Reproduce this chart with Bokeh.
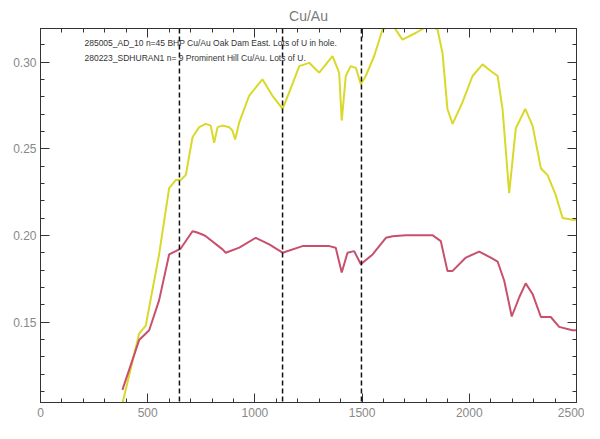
from bokeh.plotting import figure
from bokeh.models import Range1d, LinearAxis, Span, Label, FixedTicker, CustomJSTickFormatter
from bokeh.embed import file_html
from bokeh.resources import INLINE

# ---- data ----
yel_x = [382, 460, 491, 553, 600, 631, 654, 678, 709, 740, 771, 794, 810, 826, 849, 880, 895,
         908, 927, 973, 1035, 1082, 1129, 1160, 1207, 1253, 1300, 1362, 1393, 1405, 1424,
         1447, 1471, 1494, 1517, 1556, 1595, 1642, 1688, 1750, 1813, 1852, 1875, 1898,
         1922, 1968, 2015, 2062, 2100, 2132, 2155, 2186, 2217, 2261, 2295, 2334, 2365,
         2403, 2435, 2481, 2500]
yel_y = [0.1031, 0.1434, 0.148, 0.189, 0.2273, 0.232, 0.232, 0.235, 0.2567, 0.2625, 0.2644,
         0.2634, 0.2535, 0.2625, 0.2634, 0.2625, 0.2606, 0.2554, 0.2653, 0.2806, 0.2901,
         0.2806, 0.273, 0.2825, 0.2977, 0.2996, 0.2939, 0.3034, 0.2939, 0.2663, 0.292,
         0.2977, 0.2967, 0.2872, 0.292, 0.3034, 0.3187, 0.3215, 0.313, 0.3168, 0.3215,
         0.3187, 0.3053, 0.273, 0.2644, 0.2768, 0.292, 0.2987, 0.2949, 0.292, 0.273,
         0.2244, 0.2619, 0.273, 0.2634, 0.2387, 0.2349, 0.2234, 0.2101, 0.2091, 0.2091]

red_x = [382, 460, 507, 553, 600, 631, 654, 709, 724, 755, 771, 849, 864, 927, 1004, 1067,
         1129, 1222, 1347, 1377, 1405, 1432, 1463, 1494, 1549, 1611, 1642, 1704, 1828,
         1867, 1898, 1922, 1984, 2046, 2100, 2132, 2163, 2198, 2233, 2263, 2295, 2334,
         2380, 2419, 2481, 2500]
red_y = [0.111, 0.1397, 0.1454, 0.1626, 0.1891, 0.191, 0.1925, 0.2025, 0.202, 0.2006,
         0.1996, 0.192, 0.1901, 0.193, 0.1987, 0.1949, 0.1901, 0.1939, 0.1939, 0.193,
         0.1787, 0.1901, 0.191, 0.1834, 0.1891, 0.1987, 0.1996, 0.2002, 0.2002, 0.1968,
         0.1796, 0.1796, 0.1873, 0.1907, 0.1873, 0.185, 0.1739, 0.1533, 0.1644, 0.1724,
         0.1663, 0.153, 0.153, 0.1473, 0.1454, 0.1454]

vlines = [648, 1129, 1497]
x_ticks = [0, 500, 1000, 1500, 2000, 2500]
y_ticks = [0.15, 0.20, 0.25, 0.30]
x_minor = list(range(0, 2501, 100))
y_minor = [round(0.10 + 0.01 * i, 2) for i in range(23)]
title_text = "Cu/Au"
note_lines = ["285005_AD_10  n=45 BHP Cu/Au Oak Dam East. Lots of U in hole.",
              "280223_SDHURAN1  n= 9 Prominent Hill Cu/Au. Lots of U."]
note_x = [205, 205]
note_y = [0.3109, 0.3023]

# ---- figure ----
p = figure(width=584, height=423, output_backend="svg", toolbar_location=None,
           x_range=Range1d(0, 2500), y_range=Range1d(0.1037, 0.3194),
           min_border_left=40, min_border_right=8, min_border_top=24, min_border_bottom=21)
p.title.text = title_text
p.title.align = "center"
p.title.text_font = "Liberation Sans"
p.title.text_font_size = "14px"
p.title.text_font_style = "normal"
p.title.text_color = "#7a7a7a"
p.title.offset = 0
p.grid.visible = False
p.outline_line_color = "#333333"

for ax in p.xaxis + p.yaxis:
    ax.major_tick_in = 9
    ax.major_tick_out = 0
    ax.minor_tick_in = 4
    ax.minor_tick_out = 0
    ax.axis_line_color = "#333333"
    ax.major_tick_line_color = "#333333"
    ax.minor_tick_line_color = "#333333"
    ax.major_label_text_font = "Liberation Sans"
    ax.major_label_text_font_size = "12px"
    ax.major_label_text_color = "#888888"
p.xaxis.ticker = FixedTicker(ticks=x_ticks, minor_ticks=x_minor)
p.yaxis.ticker = FixedTicker(ticks=y_ticks, minor_ticks=y_minor)
p.yaxis.formatter = CustomJSTickFormatter(code="return tick.toFixed(2);")
p.xaxis.major_label_standoff = 5
p.yaxis.major_label_standoff = 4

top = LinearAxis(ticker=FixedTicker(ticks=x_ticks, minor_ticks=x_minor))
right = LinearAxis(ticker=FixedTicker(ticks=y_ticks, minor_ticks=y_minor))
for ax in (top, right):
    ax.major_tick_in = 9
    ax.major_tick_out = 0
    ax.minor_tick_in = 4
    ax.minor_tick_out = 0
    ax.axis_line_color = "#333333"
    ax.major_tick_line_color = "#333333"
    ax.minor_tick_line_color = "#333333"
    ax.major_label_text_font_size = "0px"
p.add_layout(top, "above")
p.add_layout(right, "right")

for xv in vlines:
    p.add_layout(Span(location=xv, dimension="height", line_color="#111111",
                      line_width=1.5, line_dash="5 3"))

p.line(yel_x, yel_y, line_color="#d9d92a", line_width=2)
p.line(red_x, red_y, line_color="#c8506c", line_width=2)

for t, xx, yy in zip(note_lines, note_x, note_y):
    p.add_layout(Label(x=xx, y=yy, text=t, text_font="Liberation Sans",
                       text_font_size="8.5px", text_color="#333333",
                       text_baseline="middle"))

open("out.html", "w").write(file_html(p, INLINE))
